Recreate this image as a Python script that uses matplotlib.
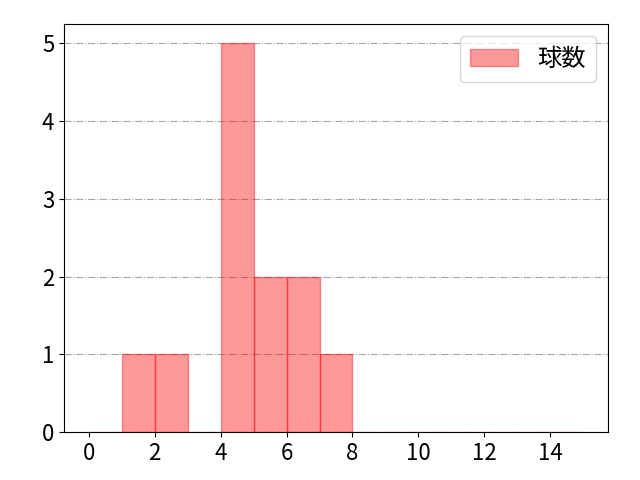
import matplotlib
matplotlib.use('Agg')
import matplotlib.pyplot as plt
import numpy as np

plt.rcParams['font.family'] = ['Noto Sans CJK JP', 'DejaVu Sans']

# --- data: pitch counts per bin (bins of width 1 from 0 to 15) ---
bin_edges = list(range(0, 16))
counts = [0, 1, 1, 0, 5, 2, 2, 1, 0, 0, 0, 0, 0, 0, 0]
label = '球数'

fig, ax = plt.subplots(figsize=(6.4, 4.8), dpi=100)
fig.subplots_adjust(left=0.1, right=0.95, bottom=0.1, top=0.95)
ax.hist(bin_edges[:-1], bins=bin_edges, weights=counts,
        color='red', alpha=0.4, edgecolor='red', label=label)

ax.set_xticks(np.arange(0, 16, 2))
ax.set_yticks(range(0, 6))
ax.tick_params(labelsize=16)
ax.grid(axis='y', linestyle='-.', color='gray', alpha=0.7)
ax.set_axisbelow(True)
ax.legend(fontsize=17.5, loc='upper right')

fig.savefig('out.png')
